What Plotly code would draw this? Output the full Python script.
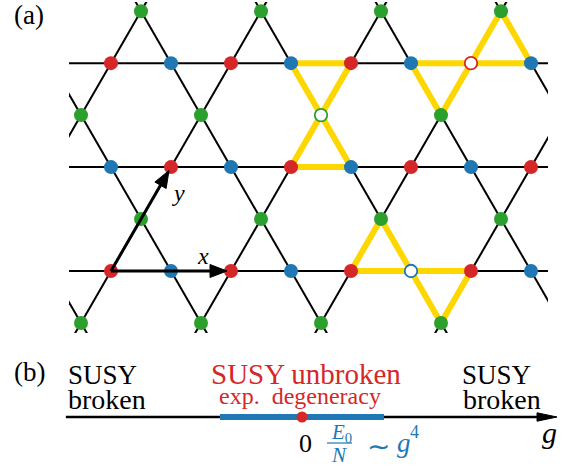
import numpy as np
import plotly.graph_objects as go

W, H = 566, 468
SERIF = "Liberation Serif"

# ---------------- (a) kagome lattice, triangle side = 1 ----------------
SQ3 = np.sqrt(3.0)
CHAIN_ROWS = [-2, 0, 2, 4, 6]            # half-row index h of the horizontal chains (w = h*sqrt3/2)
SITE_ROWS = [-1, 0, 1, 2, 3, 4, 5]       # half-row indices that carry sites
U_SPAN = list(range(-2, 10))
SUBLATTICE_COLOR = {"A": "#d62728", "B": "#1f77b4", "C": "#2ca02c"}
DEFECTS = [("C", 3.5, 3), ("A", 6.0, 4), ("B", 5.0, 0)]   # (sublattice, u, h)
BOND_COLOR = "black"
HIGHLIGHT_COLOR = "#ffd700"
PRIMITIVE = {"x": (2.0, 0.0), "y": (1.0, SQ3)}

# visible window of the lattice (lattice units)
U_RANGE = (-0.7, 7.2833)
W_RANGE = (-1.0333, 4.4833)
PX_PER_UNIT = 60.0

# ---------------- (b) phase diagram along g ----------------
G_AXIS = (-2.88, 3.11)
G_UNBROKEN = (-1.0, 1.0)
G_ORIGIN = 0.0
G_PX_PER_UNIT = 82.0
G_ZERO_PX = 302.0

RED = "#d62728"
BLUE = "#1f77b4"


def wpos(h):
    return h * SQ3 / 2.0


def lattice_sites():
    out = []
    for h in SITE_ROWS:
        if h % 2 == 0:
            for u in U_SPAN:
                sub = "A" if (u + h // 2) % 2 == 0 else "B"
                out.append((sub, float(u), h))
        else:
            start = 0.5 + ((h - 1) // 2) % 2
            for k in range(-2, 6):
                out.append(("C", start + 2 * k, h))
    return out


def lattice_triangles():
    tris = []
    for h in CHAIN_ROWS:
        for u in U_SPAN:
            apex_h = h + 1 if (u - h // 2) % 2 == 0 else h - 1
            tris.append([(float(u), h), (u + 1.0, h), (u + 0.5, apex_h)])
    return tris


def inside(u, h):
    w = wpos(h)
    return U_RANGE[0] <= u <= U_RANGE[1] and W_RANGE[0] <= w <= W_RANGE[1]


def arrow_geometry(x0, y0, x1, y1, head_len, half_w, backoff):
    d = np.array([x1 - x0, y1 - y0], float)
    e = d / np.hypot(*d)
    n = np.array([-e[1], e[0]])
    tip = np.array([x1, y1]) - e * backoff
    base = tip - e * head_len
    shaft = ([x0, base[0]], [y0, base[1]])
    p1 = base + n * half_w
    p2 = base - n * half_w
    head = ([tip[0], p1[0], p2[0], tip[0]], [tip[1], p1[1], p2[1], tip[1]])
    return shaft, head


fig = go.Figure()

# bonds: three families of straight lines
bx, by = [], []
for h in CHAIN_ROWS:
    bx += [-6, 14, None]
    by += [wpos(h), wpos(h), None]
for m in range(-5, 8):
    for t0, sgn in ((2 * m, 1), (2 * m + 1, -1)):
        bx += [t0 - sgn * 0.5 * 10, t0 + sgn * 0.5 * 10, None]
        by += [-10 * SQ3 / 2, 10 * SQ3 / 2, None]
fig.add_trace(go.Scatter(x=bx, y=by, mode="lines", line=dict(color=BOND_COLOR, width=2),
                         hoverinfo="skip", xaxis="x", yaxis="y"))

# highlighted triangles around each vacancy
defect_pos = {(u, h) for _, u, h in DEFECTS}
hx, hy = [], []
for tri in lattice_triangles():
    if any(p in defect_pos for p in tri):
        for (u, h) in tri + [tri[0]]:
            hx.append(u)
            hy.append(wpos(h))
        hx.append(None)
        hy.append(None)
fig.add_trace(go.Scatter(x=hx, y=hy, mode="lines", line=dict(color=HIGHLIGHT_COLOR, width=6),
                         hoverinfo="skip", xaxis="x", yaxis="y"))

# lattice sites
for sub, color in SUBLATTICE_COLOR.items():
    pts = [(u, h) for s, u, h in lattice_sites()
           if s == sub and inside(u, h) and (u, h) not in defect_pos]
    fig.add_trace(go.Scatter(x=[p[0] for p in pts], y=[wpos(p[1]) for p in pts], mode="markers",
                             marker=dict(size=14, color=color, line=dict(width=0)),
                             cliponaxis=False, hoverinfo="skip", xaxis="x", yaxis="y"))
for sub, u, h in DEFECTS:
    fig.add_trace(go.Scatter(x=[u], y=[wpos(h)], mode="markers",
                             marker=dict(size=12.5, color="white",
                                         line=dict(width=1.8, color=SUBLATTICE_COLOR[sub])),
                             cliponaxis=False, hoverinfo="skip", xaxis="x", yaxis="y"))

# primitive vectors
for name, (dx, dy) in PRIMITIVE.items():
    shaft, head = arrow_geometry(0, 0, dx, dy, 17 / PX_PER_UNIT, 6.5 / PX_PER_UNIT, 4 / PX_PER_UNIT)
    fig.add_trace(go.Scatter(x=shaft[0], y=shaft[1], mode="lines", line=dict(color="black", width=3),
                             hoverinfo="skip", xaxis="x", yaxis="y"))
    fig.add_trace(go.Scatter(x=head[0], y=head[1], mode="lines", fill="toself", fillcolor="black",
                             line=dict(color="black", width=1), hoverinfo="skip", xaxis="x", yaxis="y"))

# ---------------- (b) g axis ----------------
shaft, head = arrow_geometry(G_AXIS[0], 0, G_AXIS[1], 0, 20 / G_PX_PER_UNIT, 4.2, 0)
fig.add_trace(go.Scatter(x=shaft[0], y=shaft[1], mode="lines", line=dict(color="black", width=2.5),
                         hoverinfo="skip", xaxis="x2", yaxis="y2"))
fig.add_trace(go.Scatter(x=head[0], y=head[1], mode="lines", fill="toself", fillcolor="black",
                         line=dict(color="black", width=1), hoverinfo="skip", xaxis="x2", yaxis="y2"))
fig.add_trace(go.Scatter(x=list(G_UNBROKEN), y=[0, 0], mode="lines", line=dict(color=BLUE, width=6),
                         hoverinfo="skip", xaxis="x2", yaxis="y2"))
fig.add_trace(go.Scatter(x=[G_ORIGIN], y=[0], mode="markers", marker=dict(size=11, color=RED),
                         cliponaxis=False, hoverinfo="skip", xaxis="x2", yaxis="y2"))

# ---------------- text ----------------
ann = []


def label(text, x_px, base_px, size, color="black", xanchor="left"):
    top = base_px - 0.891 * size - 1
    ann.append(dict(text=text, x=x_px / W, y=1 - top / H, xref="paper", yref="paper",
                    xanchor=xanchor, yanchor="top", showarrow=False,
                    font=dict(family=SERIF, size=size, color=color)))


label("(a)", 12, 23, 27)
label("(b)", 12, 380, 27)
label("<i>x</i>", 203, 263, 24, xanchor="center")
label("<i>y</i>", 178, 200, 24, xanchor="center")

label("SUSY", 66, 383, 27)
label("broken", 66, 408, 28)
label("SUSY unbroken", 306, 383, 29, color=RED, xanchor="center")
label("exp.  degeneracy", 300, 403, 24, color=RED, xanchor="center")
label("SUSY", 460, 383, 27)
label("broken", 461, 408, 28)

label("0", 305, 451, 26, xanchor="center")
label("<i>E</i><sub>0</sub>", 341, 438, 21, color=BLUE, xanchor="center")
label("<i>N</i>", 339, 461, 21, color=BLUE, xanchor="center")
label("∼", 378, 455, 28, color=BLUE, xanchor="center")
label("<i>g</i>", 395, 451, 27, color=BLUE)
label("4", 408, 437, 18, color=BLUE)
label("<i>g</i>", 540, 442, 30)

shapes = [dict(type="line", xref="paper", yref="paper", x0=327 / W, x1=352 / W,
               y0=1 - 443 / H, y1=1 - 443 / H, line=dict(color=BLUE, width=1.2))]

x2_range = [-G_ZERO_PX / G_PX_PER_UNIT, (W - G_ZERO_PX) / G_PX_PER_UNIT]

fig.update_layout(
    width=W, height=H, autosize=False,
    margin=dict(l=0, r=0, t=0, b=0, pad=0),
    paper_bgcolor="white", plot_bgcolor="rgba(0,0,0,0)",
    showlegend=False,
    font=dict(family=SERIF),
    xaxis=dict(domain=[69 / W, 548 / W], range=list(U_RANGE), visible=False, fixedrange=True),
    yaxis=dict(domain=[1 - 333 / H, 1 - 2 / H], range=list(W_RANGE), visible=False, fixedrange=True),
    xaxis2=dict(domain=[0, 1], range=x2_range, visible=False, anchor="y2", fixedrange=True),
    yaxis2=dict(domain=[0, 128 / H], range=[-51, 77], visible=False, anchor="x2", fixedrange=True),
    annotations=ann,
    shapes=shapes,
)

fig.write_html("out.html")
